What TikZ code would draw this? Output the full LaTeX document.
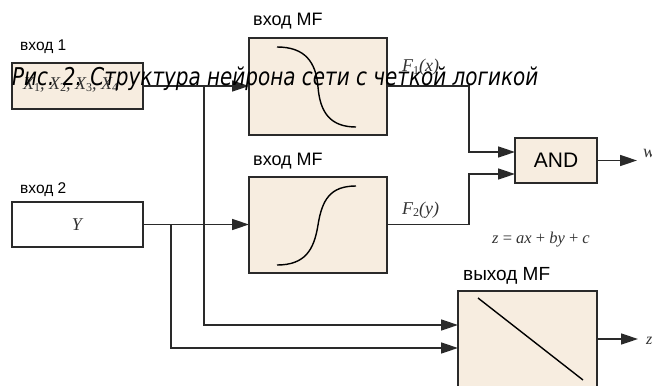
\documentclass[tikz,border=0pt]{standalone}
\usepackage{fontspec}
\setmainfont{Liberation Sans}
\newfontfamily\serif{Liberation Serif}
\newfontfamily\capfont{DejaVu Sans}
\usetikzlibrary{arrows.meta}
\definecolor{beige}{HTML}{F7EDE0}
\definecolor{edge}{HTML}{2A2A2A}
\newcommand\sbs[1]{\raisebox{-0.35ex}{\fontsize{12}{12}\selectfont\upshape #1}}
\tikzset{
  blk/.style={draw=edge, line width=1.8pt, fill=beige, inner sep=0pt, outer sep=0pt},
  wire/.style={draw=edge, line width=1.5pt},
  arr/.style={wire, -{Triangle[length=17pt,width=11pt]}},
  lbl/.style={inner sep=0pt, anchor=base west, font=\fontsize{15}{15}\selectfont},
  mth/.style={inner sep=0pt, font=\serif\itshape\fontsize{18}{18}\selectfont, text=black!80},
  crv/.style={draw=black, line width=1.4pt},
}
\begin{document}
\begin{tikzpicture}[x=1pt,y=-1pt]
\useasboundingbox (0,0) rectangle (652,385);
\clip (0,0) rectangle (652,385);
% boxes
\node[blk, minimum width=131pt, minimum height=46pt] (in1) at (77.5,86) {};
\node[blk, fill=white, minimum width=131pt, minimum height=45pt] (in2) at (77.5,224.5) {};
\node[blk, minimum width=138pt, minimum height=97pt] (mf1) at (318,86.5) {};
\node[blk, minimum width=138pt, minimum height=96pt] (mf2) at (318,225) {};
\node[blk, minimum width=82pt, minimum height=45pt, font=\fontsize{21}{21}\selectfont] (and) at (556,160.5) {AND};
\node[blk, minimum width=139pt, minimum height=140pt] (out) at (527.5,361) {};
% box texts
\node[mth, anchor=base west] (xs) at (23,89) {X\sbs{1}, X\sbs{2}, X\sbs{3}, X\sbs{4}};
\node[mth] (ylab) at (77,225) {Y};
% labels
\node[lbl, font=\fontsize{15.5}{15}\selectfont] (l1) at (20,51) {вход 1};
\node[lbl, font=\fontsize{15.5}{15}\selectfont] (l2) at (20,193) {вход 2};
\node[lbl, font=\fontsize{18}{18}\selectfont] (l3) at (253,26) {вход MF};
\node[lbl, font=\fontsize{18}{18}\selectfont] (l4) at (253,165) {вход MF};
\node[lbl, font=\fontsize{19}{19}\selectfont] (l5) at (463,280) {выход MF};
% curves
\draw[crv] (277,47) .. controls (305,47) and (316,62) .. (318,87) .. controls (320,112) and (330,127) .. (356,127);
\draw[crv] (277,265) .. controls (305,265) and (314,250) .. (318,225) .. controls (322,200) and (330,186) .. (356,186);
\draw[crv] (478,298) -- (583,380);
% connectors
\coordinate (b1) at (204,86);
\coordinate (b2) at (171,224.5);
\coordinate (j1) at (469,86);
\coordinate (j2) at (469,224.5);
\draw[arr] (in1.east) -- (in1.east -| mf1.west);
\draw[arr] (in2.east) -- (in2.east -| mf2.west);
\draw[arr] (b1) |- (out.west |- 0,325);
\draw[arr] (b2) |- (out.west |- 0,348);
\draw[arr] (mf1.east |- j1) -- (j1) |- (and.west |- 0,152);
\draw[arr] (mf2.east |- j2) -- (j2) |- (and.west |- 0,174);
\coordinate (wo) at (637,160.5);
\coordinate (zo) at (638,339);
\draw[arr] (and.east) -- (wo);
\draw[arr] (out.east |- zo) -- (zo);
% math labels
\node[mth, anchor=base west] (f1) at (402,72) {F\sbs{1}(x)};
\node[mth, anchor=base west] (f2) at (402,214) {F\sbs{2}(y)};
\node[mth, anchor=base west, font=\serif\itshape\fontsize{16.5}{16}\selectfont] (eq) at (492,243) {z {\upshape =} ax {\upshape +} by {\upshape +} c};
\node[mth, anchor=base west] (w) at (643,157) {w};
\node[mth, anchor=base west, font=\serif\itshape\fontsize{16}{16}\selectfont] (z) at (646,344) {z};
% caption overlay
\node[inner sep=0pt, anchor=base west] (cap) at (12,85) {\resizebox{526pt}{\height}{\capfont\itshape\fontsize{24.5}{25}\selectfont Рис. 2. Структура нейрона сети с четкой логикой}};
\end{tikzpicture}
\end{document}
